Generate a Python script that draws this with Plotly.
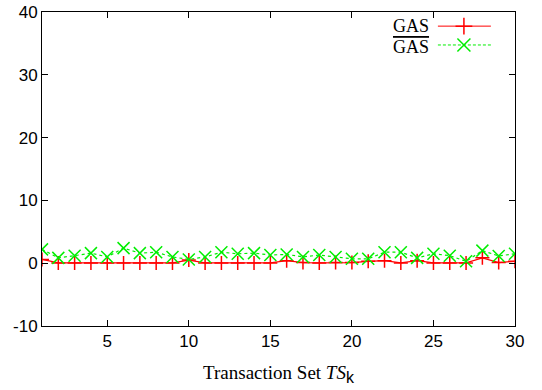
import plotly.graph_objects as go

ts = list(range(1, 31))
gas = [0.6, 0.05, 0.05, 0.05, 0.05, 0.05, 0.05, 0.05, 0.05, 0.5,
       0.05, 0.05, 0.05, 0.05, 0.05, 0.4, 0.1, 0.05, 0.1, 0.1,
       0.3, 0.4, 0.05, 0.4, 0.05, 0.05, 0.05, 0.85, 0.1, 0.3]
gas_hat = [2.2, 0.85, 1.2, 1.6, 1.0, 2.4, 1.6, 1.75, 1.0, 0.6,
           1.0, 1.75, 1.5, 1.6, 1.3, 1.4, 1.0, 1.3, 1.0, 0.7,
           0.7, 1.75, 1.75, 0.85, 1.5, 1.2, 0.3, 2.0, 1.15, 1.5]
x_ticks = [5, 10, 15, 20, 25, 30]
y_ticks = [-10, 0, 10, 20, 30, 40]
y_tick_labels = ["-10", "0", "10", "20", "30", "40"]

RED = "#ff0000"
GREEN = "#00ee00"

fig = go.Figure()
fig.add_trace(go.Scatter(x=ts, y=gas, mode="lines+markers", showlegend=False,
                         line=dict(color=RED, width=1.2),
                         marker=dict(symbol="cross-thin", size=10, color=RED,
                                     line=dict(color=RED, width=1.5))))
fig.add_trace(go.Scatter(x=ts, y=gas_hat, mode="lines+markers", showlegend=False,
                         line=dict(color=GREEN, width=1.2, dash="3px,3px"),
                         marker=dict(symbol="x-thin", size=12, color=GREEN,
                                     line=dict(color=GREEN, width=1.5))))

# manual legend (text on the left, sample on the right) on an overlay axis
leg_y = [0.955, 0.895]
fig.add_trace(go.Scatter(x=[0.837, 0.949], y=[leg_y[0]] * 2, xaxis="x2", yaxis="y2",
                         mode="lines", showlegend=False, line=dict(color=RED, width=1)))
fig.add_trace(go.Scatter(x=[0.892], y=[leg_y[0]], xaxis="x2", yaxis="y2", mode="markers",
                         showlegend=False,
                         marker=dict(symbol="cross-thin", size=12, color=RED,
                                     line=dict(color=RED, width=1.5))))
fig.add_trace(go.Scatter(x=[0.837, 0.949], y=[leg_y[1]] * 2, xaxis="x2", yaxis="y2",
                         mode="lines", showlegend=False,
                         line=dict(color=GREEN, width=1, dash="3px,2px")))
fig.add_trace(go.Scatter(x=[0.892], y=[leg_y[1]], xaxis="x2", yaxis="y2", mode="markers",
                         showlegend=False,
                         marker=dict(symbol="x-thin", size=13, color=GREEN,
                                     line=dict(color=GREEN, width=1.5))))

serif = "Liberation Serif"
fig.add_annotation(text="GAS", xref="x domain", yref="y domain", x=0.822, y=leg_y[0],
                   xanchor="right", yanchor="middle", showarrow=False,
                   font=dict(family=serif, size=18, color="black"))
fig.add_annotation(text='<span style="text-decoration:overline">GAS</span>',
                   xref="x domain", yref="y domain", x=0.822, y=leg_y[1] - 0.008,
                   xanchor="right", yanchor="middle", showarrow=False,
                   font=dict(family=serif, size=18, color="black"))

axis_common = dict(showline=True, linecolor="black", linewidth=1, mirror="ticks",
                   ticks="inside", ticklen=6, tickcolor="black", showgrid=False,
                   zeroline=False, automargin=False,
                   tickfont=dict(family="Liberation Sans", size=17, color="black"))

fig.update_layout(
    width=542, height=390,
    margin=dict(l=42, r=27, t=12, b=64),
    plot_bgcolor="white", paper_bgcolor="white",
    xaxis=dict(range=[1, 30], tickvals=x_ticks, **axis_common,
               title=dict(text='Transaction Set <i>TS</i><sub><span style="font-family:Liberation Sans;font-size:16px">k</span></sub>',
                          font=dict(family=serif, size=19, color="black"))),
    yaxis=dict(range=[-10, 40], tickvals=y_ticks, ticktext=y_tick_labels, **axis_common),
    xaxis2=dict(range=[0, 1], overlaying="x", visible=False),
    yaxis2=dict(range=[0, 1], overlaying="y", visible=False),
)

fig.write_html("out.html", config={"displayModeBar": False},
               post_script="document.body.style.margin='0';")
